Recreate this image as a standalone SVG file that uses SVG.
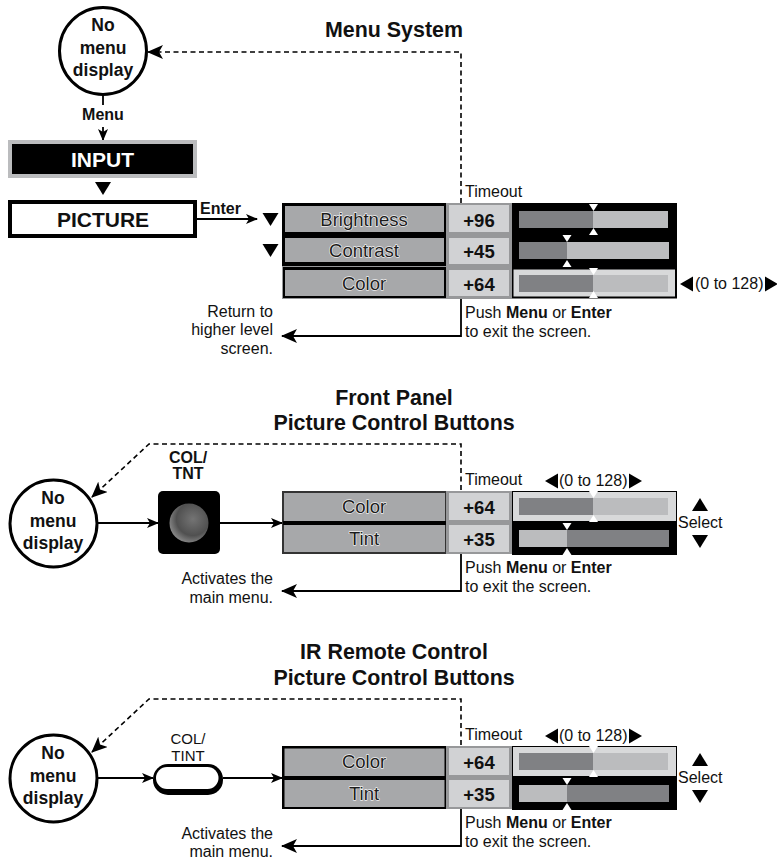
<svg xmlns="http://www.w3.org/2000/svg" width="777" height="859" viewBox="0 0 777 859">
<style>
text{font-family:"Liberation Sans",Arial,sans-serif;fill:#111}
.t{font-size:21.4px;font-weight:700;text-anchor:middle}
.big{font-size:21px;font-weight:700;text-anchor:middle}
.c{font-size:17.500px;font-weight:700;text-anchor:middle}
.s{font-size:16px}
.b{font-weight:700}
.m{text-anchor:middle}
.r{text-anchor:end}
.circ{fill:#fff;stroke:#000;stroke-width:3}
.lab{fill:#a7a8aa}
.labt{font-size:18.500px;text-anchor:middle;fill:#1c1c1c;stroke:#fff;stroke-width:1.300px;stroke-opacity:.85;paint-order:stroke;stroke-linejoin:round}
.val{fill:#d1d2d4}
.valt{font-size:18.500px;font-weight:700;text-anchor:middle}
.dk{fill:#808184}
.lt{fill:#bbbcbe}
.line{fill:none;stroke:#000;stroke-width:1.800}
.dash{fill:none;stroke:#000;stroke-width:1.600;stroke-dasharray:5 3.5}
.wt{fill:#fff}
</style>
<defs>
<path id="dn" d="M-8 0H8L0 13Z"/>
<path id="up" d="M-8 13H8L0 0Z"/>
<path id="rt" d="M0 -7.500V7.500L13 0Z"/>
<path id="tipd" class="wt" d="M-4.500 0H4.500L0 7Z"/>
<path id="tipu" class="wt" d="M-4.500 7H4.500L0 0Z"/>
<marker id="ah" viewBox="0 0 12 10" refX="11" refY="5" markerWidth="12" markerHeight="10" markerUnits="userSpaceOnUse" orient="auto"><path d="M0 0L12 5L0 10L3 5Z"/></marker>
<marker id="ahl" viewBox="0 0 16 14" refX="15" refY="7" markerWidth="16" markerHeight="14" markerUnits="userSpaceOnUse" orient="auto"><path d="M0 0L16 7L0 14L4 7Z"/></marker>
<radialGradient id="knob" cx="0.6" cy="0.4" r="0.65"><stop offset="0" stop-color="#747474"/><stop offset="0.65" stop-color="#505050"/><stop offset="1" stop-color="#8c8c8c"/></radialGradient>
</defs>

<g id="connectors">
<path class="dash" d="M461 203V52H148" marker-end="url(#ahl)"/>
<path class="line" d="M103 95V105M103 127V140" marker-end="url(#ah)"/>
<path class="line" d="M197 219H257" marker-end="url(#ah)"/>
<path class="line" d="M461 298V336H282" marker-end="url(#ahl)"/>
<path class="dash" d="M461 490V444H149L92 497" marker-end="url(#ahl)"/>
<path class="line" d="M98 523H158" marker-end="url(#ah)"/>
<path class="line" d="M220 523H282" marker-end="url(#ah)"/>
<path class="line" d="M461 554V591H282" marker-end="url(#ahl)"/>
<path class="dash" d="M461 745V699H149L92 752" marker-end="url(#ahl)"/>
<path class="line" d="M98 778H153" marker-end="url(#ah)"/>
<path class="line" d="M223 778H282" marker-end="url(#ah)"/>
<path class="line" d="M461 809V846H282" marker-end="url(#ahl)"/>
</g>

<g id="title-menu"><text class="t" x="394" y="37">Menu System</text></g>
<g id="no-menu-1"><circle class="circ" cx="103" cy="51" r="43.500"/><text class="c" x="103" y="31">No</text><text class="c" x="103" y="54">menu</text><text class="c" x="103" y="76">display</text></g>
<g id="menu-label"><text class="s b m" x="103" y="120">Menu</text></g>
<g id="input"><rect x="10" y="142" width="185" height="34" fill="#000" stroke="#bbbcbe" stroke-width="4"/><text class="big" x="102.500" y="167" style="fill:#fff">INPUT</text></g>
<use href="#dn" x="103" y="182"/>
<g id="picture"><rect x="10" y="202" width="185" height="34" fill="#fff" stroke="#000" stroke-width="4"/><text class="big" x="103" y="227">PICTURE</text></g>
<g id="enter-label"><text class="s b" x="200" y="214">Enter</text></g>
<use href="#dn" x="270.500" y="213"/>
<use href="#dn" x="270.500" y="244"/>

<g id="bars-1">
<rect x="512" y="203" width="165" height="65" fill="#000"/>
<rect class="dk" x="519" y="211" width="74" height="17"/><rect class="lt" x="593" y="211" width="75" height="17"/>
<use href="#tipd" x="593.500" y="204"/><use href="#tipu" x="593.500" y="228"/>
<rect class="dk" x="519" y="242" width="48" height="17"/><rect class="lt" x="567" y="242" width="102" height="17"/>
<use href="#tipd" x="567" y="235"/><use href="#tipu" x="567" y="260"/>
<rect x="512.500" y="268.500" width="163.500" height="29" fill="#d8d9da" stroke="#000" stroke-width="2"/>
<rect class="dk" x="519" y="275" width="74" height="17"/><rect class="lt" x="593" y="275" width="75" height="17"/>
<use href="#tipd" x="593.500" y="268"/><use href="#tipu" x="593.500" y="291"/>
</g>
<rect x="282" y="203" width="165" height="65" fill="#000"/><rect x="282" y="266" width="165" height="33" fill="#97989a"/><rect x="283" y="267" width="163" height="31" fill="#000"/>
<rect x="446" y="203" width="66" height="96" fill="#97989a"/>
<g id="brightness"><rect class="lab" x="285" y="206" width="159" height="26"/><text class="labt" x="364" y="226">Brightness</text></g>
<g id="contrast"><rect class="lab" x="285" y="238" width="159" height="24"/><text class="labt" x="364" y="257">Contrast</text></g>
<g id="color-1"><rect class="lab" x="285" y="270" width="159" height="26"/><text class="labt" x="364" y="290">Color</text></g>
<g id="val-96"><rect class="val" x="449" y="205" width="60" height="27"/><text class="valt" x="479" y="227">+96</text></g>
<g id="val-45"><rect class="val" x="449" y="238" width="60" height="26"/><text class="valt" x="479" y="258">+45</text></g>
<g id="val-64-1"><rect class="val" x="449" y="270" width="60" height="26"/><text class="valt" x="479" y="291">+64</text></g>
<text class="s" x="465" y="197">Timeout</text>
<use href="#rt" transform="translate(693,284) scale(-1,1)"/><text class="s" x="695" y="289">(0 to 128)</text><use href="#rt" x="765" y="284"/>
<text class="s" x="465" y="318">Push <tspan class="b">Menu</tspan> or <tspan class="b">Enter</tspan></text>
<text class="s" x="465" y="337">to exit the screen.</text>
<text class="s r" x="273" y="317">Return to</text><text class="s r" x="273" y="335">higher level</text><text class="s r" x="273" y="354">screen.</text>

<g id="title-front"><text class="t" x="394" y="405">Front Panel</text><text class="t" x="394" y="430">Picture Control Buttons</text></g>
<g id="no-menu-2"><circle class="circ" cx="53.500" cy="523.500" r="43.500"/><text class="c" x="53" y="504">No</text><text class="c" x="53" y="527">menu</text><text class="c" x="53" y="549">display</text></g>
<g id="col-tnt"><text class="s b m" x="188" y="463">COL/</text><text class="s b m" x="188" y="479">TNT</text><rect x="158" y="491" width="62" height="63" rx="5" fill="#000"/><circle cx="189" cy="523" r="19.500" fill="url(#knob)"/></g>

<g id="bars-2">
<rect x="512" y="491" width="165" height="64" fill="#000"/>
<rect x="513" y="492" width="163" height="29" fill="#d8d9da"/>
<rect class="dk" x="519" y="498" width="74" height="17"/><rect class="lt" x="593" y="498" width="75" height="17"/>
<use href="#tipd" x="593.500" y="491"/><use href="#tipu" x="593.500" y="515"/>
<rect class="lt" x="519" y="530" width="48" height="17"/><rect class="dk" x="567" y="530" width="102" height="17"/>
<use href="#tipd" x="567" y="523"/><use href="#tipu" x="567" y="548"/>
</g>
<rect x="282" y="491" width="165" height="63" fill="#333"/><rect x="283" y="521" width="163" height="4" fill="#000"/>
<rect x="446" y="491" width="66" height="63" fill="#97989a"/>
<g id="color-2"><rect class="lab" x="284" y="493" width="161" height="28"/><text class="labt" x="364" y="513">Color</text></g>
<g id="tint-2"><rect class="lab" x="284" y="525" width="161" height="27"/><text class="labt" x="364" y="545">Tint</text></g>
<g id="val-64-2"><rect class="val" x="449" y="493" width="60" height="27"/><text class="valt" x="479" y="514">+64</text></g>
<g id="val-35-2"><rect class="val" x="449" y="525" width="60" height="27"/><text class="valt" x="479" y="546">+35</text></g>
<text class="s" x="465" y="485">Timeout</text>
<use href="#rt" transform="translate(558,481) scale(-1,1)"/><text class="s" x="559" y="486">(0 to 128)</text><use href="#rt" x="629" y="481"/>
<use href="#up" x="700" y="498"/><text class="s" x="678" y="528">Select</text><use href="#dn" x="700" y="535"/>
<text class="s" x="465" y="573">Push <tspan class="b">Menu</tspan> or <tspan class="b">Enter</tspan></text>
<text class="s" x="465" y="592">to exit the screen.</text>
<text class="s r" x="273" y="584">Activates the</text><text class="s r" x="273" y="603">main menu.</text>

<g id="title-ir"><text class="t" x="394" y="659">IR Remote Control</text><text class="t" x="394" y="685">Picture Control Buttons</text></g>
<g id="no-menu-3"><circle class="circ" cx="53.500" cy="778.500" r="43.500"/><text class="c" x="53" y="759">No</text><text class="c" x="53" y="782">menu</text><text class="c" x="53" y="804">display</text></g>
<g id="col-tint"><text class="s m" x="188" y="744" style="font-size:15px">COL/</text><text class="s m" x="188" y="761" style="font-size:15px">TINT</text><rect x="153" y="764" width="70" height="31" rx="15" fill="#000"/><rect x="156" y="767" width="62.500" height="22" rx="11" fill="#fff"/></g>

<g id="bars-3">
<rect x="512" y="746" width="165" height="64" fill="#000"/>
<rect x="513" y="747" width="163" height="29" fill="#d8d9da"/>
<rect class="dk" x="519" y="753" width="74" height="17"/><rect class="lt" x="593" y="753" width="75" height="17"/>
<use href="#tipd" x="593.500" y="746"/><use href="#tipu" x="593.500" y="770"/>
<rect class="lt" x="519" y="785" width="48" height="17"/><rect class="dk" x="567" y="785" width="102" height="17"/>
<use href="#tipd" x="567" y="778"/><use href="#tipu" x="567" y="803"/>
</g>
<rect x="282" y="746" width="165" height="63" fill="#000"/>
<rect x="446" y="746" width="66" height="63" fill="#97989a"/>
<g id="color-3"><rect class="lab" x="284.500" y="748.500" width="160" height="27.500"/><text class="labt" x="364" y="768">Color</text></g>
<g id="tint-3"><rect class="lab" x="284.500" y="780" width="160" height="27"/><text class="labt" x="364" y="800">Tint</text></g>
<g id="val-64-3"><rect class="val" x="449" y="748" width="60" height="27"/><text class="valt" x="479" y="769">+64</text></g>
<g id="val-35-3"><rect class="val" x="449" y="780" width="60" height="27"/><text class="valt" x="479" y="801">+35</text></g>
<text class="s" x="465" y="740">Timeout</text>
<use href="#rt" transform="translate(558,736) scale(-1,1)"/><text class="s" x="559" y="741">(0 to 128)</text><use href="#rt" x="629" y="736"/>
<use href="#up" x="700" y="753"/><text class="s" x="678" y="783">Select</text><use href="#dn" x="700" y="790"/>
<text class="s" x="465" y="828">Push <tspan class="b">Menu</tspan> or <tspan class="b">Enter</tspan></text>
<text class="s" x="465" y="847">to exit the screen.</text>
<text class="s r" x="273" y="839">Activates the</text><text class="s r" x="273" y="857">main menu.</text>
</svg>
